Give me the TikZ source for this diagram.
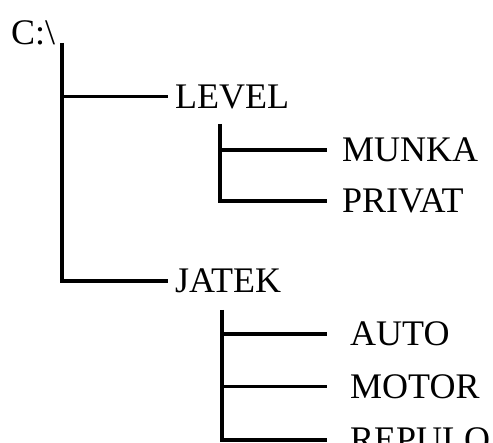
\documentclass[tikz,border=0pt]{standalone}
\usepackage{fontspec}
\setmainfont{Liberation Serif}

\begin{document}
\begin{tikzpicture}[x=1pt,y=-1pt,
    dir/.style={font=\fontsize{36}{40}\selectfont,inner sep=0pt,anchor=west},
    trunk/.style={line width=4.5pt},
    branch/.style={line width=3.5pt},
    thinbranch/.style={line width=3pt}]
  \useasboundingbox (0,0) rectangle (493,443);
  % root
  \node[dir,anchor=base west] (root) at (11,45) {C:\textbackslash};
  \coordinate (top) at (62,43);
  % first level
  \node[dir] (level) at (175,97) {LEVEL};
  \node[dir] (jatek) at (175,281) {JATEK};
  \draw[trunk,shorten >=7pt] (top) |- (jatek);
  \draw[thinbranch,shorten >=7pt] (top |- level) -- (level);
  % LEVEL
  \coordinate (lv) at (220,124);
  \foreach \n/\t/\y in {munka/MUNKA/150, privat/PRIVAT/201}{
    \node[dir] (\n) at (342,\y) {\t};
  }
  \draw[trunk,shorten >=15pt] (lv) |- (privat);
  \draw[branch,shorten >=15pt] (lv |- munka) -- (munka);
  % JATEK
  \coordinate (jt) at (222,310);
  \foreach \n/\t/\y in {auto/AUTO/334, motor/MOTOR/387, repulo/REPULO/440}{
    \node[dir] (\n) at (350,\y) {\t};
  }
  \draw[trunk,shorten >=23pt] (jt) |- (repulo);
  \draw[branch,shorten >=23pt] (jt |- auto) -- (auto);
  \draw[thinbranch,shorten >=23pt] (jt |- motor) -- (motor);
\end{tikzpicture}
\end{document}
